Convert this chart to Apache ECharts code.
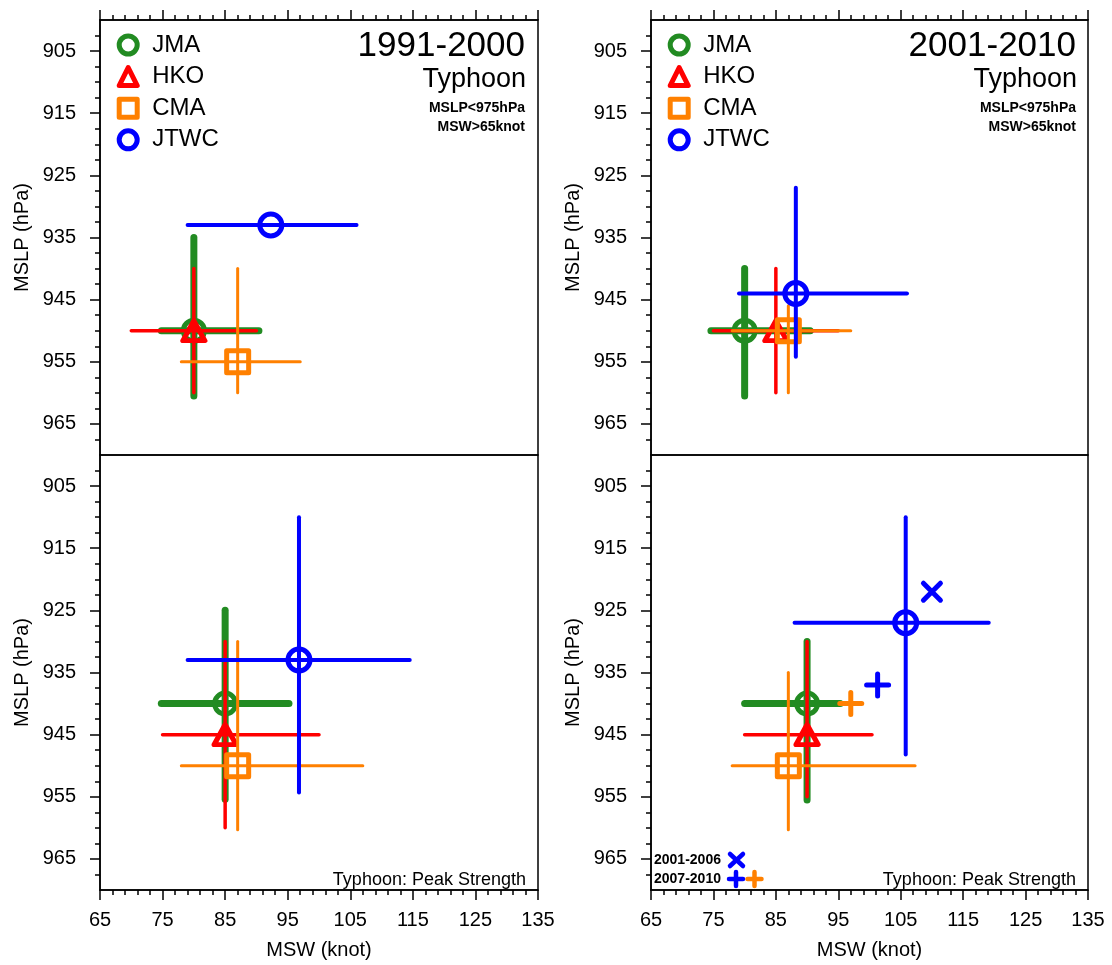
<!DOCTYPE html>
<html><head><meta charset="utf-8">
<script src="https://cdn.jsdelivr.net/npm/echarts@6/dist/echarts.min.js"></script>
<style>html,body{margin:0;padding:0;background:#fff}#c{width:1112px;height:965px}</style>
</head><body><div id="c"></div>
<script>
// ---------------- data ----------------
const agencies = ['JMA', 'HKO', 'CMA', 'JTWC'];
const xTickLabels = [65, 75, 85, 95, 105, 115, 125, 135];
const xMinorTicks = [67, 69, 71, 73, 77, 79, 81, 83, 87, 89, 91, 93, 97, 99, 101, 103, 107, 109, 111, 113, 117, 119, 121, 123, 127, 129, 131, 133];
const yTickLabels = [905, 915, 925, 935, 945, 955, 965];
const yMinorTicks = [902.5, 907.5, 910, 912.5, 917.5, 920, 922.5, 927.5, 930, 932.5, 937.5, 940, 942.5, 947.5, 950, 952.5, 957.5, 960, 962.5, 967.5];

// each: [MSW, MSLP, MSW low, MSW high, MSLP low, MSLP high]
// 1991-2000, Typhoon (MSLP<975hPa, MSW>65knot)
const ty9100_JMA  = [80, 950, 74.8, 90.4, 935, 960.5];
const ty9100_HKO  = [80, 950, 70, 90, 940, 960];
const ty9100_CMA  = [87, 955, 78, 97, 940, 960];
const ty9100_JTWC = [92.3, 933, 79, 106, 933, 933];
// 2001-2010, Typhoon
const ty0110_JMA  = [80, 950, 74.6, 90.5, 940, 960.5];
const ty0110_HKO  = [85, 950, 75, 95, 940, 960];
const ty0110_CMA  = [87, 950, 78, 97, 946, 960];
const ty0110_JTWC = [88.2, 944, 79.1, 106, 927, 954.2];
// 1991-2000, Typhoon: Peak Strength
const pk9100_JMA  = [85, 940, 74.8, 95.2, 925, 955.4];
const pk9100_HKO  = [85, 945, 75, 100, 930, 960];
const pk9100_CMA  = [87, 950, 78, 107, 930, 960.3];
const pk9100_JTWC = [96.8, 933, 79, 114.5, 910, 954.3];
// 2001-2010, Typhoon: Peak Strength
const pk0110_JMA  = [90, 940, 80, 95.3, 930, 955.5];
const pk0110_HKO  = [90, 945, 80, 100.4, 930, 955];
const pk0110_CMA  = [87, 950, 78, 107.3, 935, 960.3];
const pk0110_JTWC = [105.8, 927, 88, 119.1, 910, 948.2];
// sub-period means (peak strength)
const pk0106_JTWC = [110, 922];
const pk0710_JTWC = [101.3, 937];
const pk0710_CMA  = [97, 940];

const panelTitles = ['1991-2000', '2001-2010'];

// ---------------- styles ----------------
const FONT = '"Liberation Sans", Arial, Helvetica, sans-serif';
const colors = ['#228B22', '#FF0000', '#FF8000', '#0000FF'];
const barWidths = [7, 3.5, 3, 4];
const symbols = ['circle', 'triangle', 'rect', 'circle'];
const symbolSizes = [21, [22, 20], 22, 22];
const crossPath = 'path://M0,0L10,10M10,0L0,10';
const plusPath = 'path://M5,0L5,10M0,5L10,5';

const gridsPx = [
  {left: 100, top: 20, width: 438, height: 435},
  {left: 651, top: 20, width: 437, height: 435},
  {left: 100, top: 455, width: 438, height: 435},
  {left: 651, top: 455, width: 437, height: 435}
];
const panelData = [
  [ty9100_JMA, ty9100_HKO, ty9100_CMA, ty9100_JTWC],
  [ty0110_JMA, ty0110_HKO, ty0110_CMA, ty0110_JTWC],
  [pk9100_JMA, pk9100_HKO, pk9100_CMA, pk9100_JTWC],
  [pk0110_JMA, pk0110_HKO, pk0110_CMA, pk0110_JTWC]
];

const axisLineStyle = {color: '#000', width: 1.5};
const grid = gridsPx.map(g => Object.assign({show: true, borderColor: '#000', borderWidth: 1.5, backgroundColor: 'transparent'}, g));

const xAxis = [], yAxis = [];
gridsPx.forEach((g, i) => {
  const isBottom = i >= 2;
  xAxis.push({
    gridIndex: i, type: 'value', min: 65, max: 135,
    position: isBottom ? 'bottom' : 'top',
    name: isBottom ? 'MSW (knot)' : '', nameLocation: 'middle', nameGap: 50,
    nameTextStyle: {fontSize: 20, fontFamily: FONT, color: '#000'},
    axisLine: {show: true, onZero: false, lineStyle: axisLineStyle},
    axisTick: {show: true, inside: false, length: 10, lineStyle: axisLineStyle, customValues: xTickLabels},
    axisLabel: {show: isBottom, customValues: xTickLabels, margin: 20, fontSize: 20, fontFamily: FONT, color: '#000'},
    splitLine: {show: false}
  });
  xAxis.push({
    gridIndex: i, type: 'value', min: 65, max: 135,
    position: isBottom ? 'bottom' : 'top',
    axisLine: {show: false, onZero: false},
    axisTick: {show: true, inside: false, length: 5, lineStyle: axisLineStyle, customValues: xMinorTicks},
    axisLabel: {show: false}, splitLine: {show: false}
  });
  yAxis.push({
    gridIndex: i, type: 'value', min: 900, max: 970, inverse: true, position: 'left',
    name: 'MSLP (hPa)', nameLocation: 'middle', nameGap: 68, nameRotate: 90,
    nameTextStyle: {fontSize: 20, fontFamily: FONT, color: '#000'},
    axisLine: {show: true, onZero: false, lineStyle: axisLineStyle},
    axisTick: {show: true, inside: false, length: 10, lineStyle: axisLineStyle, customValues: yTickLabels},
    axisLabel: {show: true, customValues: yTickLabels, margin: 24, fontSize: 20, fontFamily: FONT, color: '#000'},
    splitLine: {show: false}
  });
  yAxis.push({
    gridIndex: i, type: 'value', min: 900, max: 970, inverse: true, position: 'left',
    axisLine: {show: false, onZero: false},
    axisTick: {show: true, inside: false, length: 5, lineStyle: axisLineStyle, customValues: yMinorTicks},
    axisLabel: {show: false}, splitLine: {show: false}
  });
});

const series = [];
// markers first (legend takes its icon from the first series of a name)
panelData.forEach((rows, p) => {
  rows.forEach((row, k) => {
    series.push({
      type: 'scatter', name: agencies[k], xAxisIndex: 2 * p, yAxisIndex: 2 * p,
      z: 3 + 2 * k, symbol: symbols[k], symbolSize: symbolSizes[k],
      itemStyle: {color: 'rgba(0,0,0,0)', borderColor: colors[k], borderWidth: 5, borderJoin: 'round', opacity: 1},
      emphasis: {disabled: true}, silent: true,
      data: [[row[0], row[1]]]
    });
  });
});
// error bars
panelData.forEach((rows, p) => {
  rows.forEach((row, k) => {
    series.push({
      type: 'custom', name: agencies[k], xAxisIndex: 2 * p, yAxisIndex: 2 * p,
      z: 2 + 2 * k, silent: true,
      encode: {x: [0, 2, 3], y: [1, 4, 5]},
      data: [row],
      renderItem: (params, api) => {
        const lo = api.coord([api.value(2), api.value(1)]);
        const hi = api.coord([api.value(3), api.value(1)]);
        const tp = api.coord([api.value(0), api.value(4)]);
        const bt = api.coord([api.value(0), api.value(5)]);
        const st = {stroke: colors[k], lineWidth: barWidths[k], lineCap: 'round'};
        const ch = [];
        if (Math.abs(bt[1] - tp[1]) > 0.5) ch.push({type: 'line', shape: {x1: tp[0], y1: tp[1], x2: bt[0], y2: bt[1]}, style: st});
        if (Math.abs(hi[0] - lo[0]) > 0.5) ch.push({type: 'line', shape: {x1: lo[0], y1: lo[1], x2: hi[0], y2: hi[1]}, style: st});
        return {type: 'group', children: ch};
      }
    });
  });
});
// sub-period markers in the 2001-2010 peak-strength panel
[[pk0106_JTWC, crossPath, colors[3], 17, 'JTWC 2001-2006'],
 [pk0710_JTWC, plusPath, colors[3], 22, 'JTWC 2007-2010'],
 [pk0710_CMA, plusPath, colors[2], 22, 'CMA 2007-2010']].forEach(([pt, sym, col, size, nm]) => {
  series.push({
    type: 'scatter', name: nm, xAxisIndex: 6, yAxisIndex: 6, z: 12,
    symbol: sym, symbolSize: size, silent: true, emphasis: {disabled: true},
    itemStyle: {color: 'rgba(0,0,0,0)', borderColor: col, borderWidth: 5, borderCap: 'round', opacity: 1},
    data: [[pt[0], pt[1]]]
  });
});

const legendBase = {
  data: agencies, orient: 'vertical', top: 33, itemWidth: 18, itemHeight: 18, itemGap: 7.6,
  selectedMode: false, symbolKeepAspect: true, padding: 0,
  itemStyle: {borderWidth: 5},
  textStyle: {fontSize: 24, lineHeight: 24, fontFamily: FONT, color: '#000', padding: [0, 0, 0, 10]}
};
const legend = [
  Object.assign({}, legendBase, {left: 116.7}),
  Object.assign({}, legendBase, {left: 667.7})
];

function txt(x, y, text, size, align, weight) {
  return {type: 'text', x: x, y: y, z: 20, silent: true,
    style: {text: text, align: align || 'right', verticalAlign: 'middle', fontSize: size, fontWeight: weight || 'normal', fontFamily: FONT, fill: '#000'}};
}
function seg(x1, y1, x2, y2, col) {
  return {type: 'line', z: 20, silent: true, shape: {x1, y1, x2, y2}, style: {stroke: col, lineWidth: 4.5, lineCap: 'round'}};
}
const graphic = [
  txt(525, 46, panelTitles[0], 35), txt(526, 80, 'Typhoon', 27), txt(525, 108, 'MSLP<975hPa', 14, 'right', 'bold'), txt(525, 127, 'MSW>65knot', 14, 'right', 'bold'),
  txt(1076, 46, panelTitles[1], 35), txt(1077, 80, 'Typhoon', 27), txt(1076, 108, 'MSLP<975hPa', 14, 'right', 'bold'), txt(1076, 127, 'MSW>65knot', 14, 'right', 'bold'),
  txt(526, 880, 'Typhoon: Peak Strength', 18), txt(1076, 880, 'Typhoon: Peak Strength', 18),
  txt(654, 860, '2001-2006', 14, 'left', 'bold'), txt(654, 879, '2007-2010', 14, 'left', 'bold'),
  seg(730, 854, 743, 866, colors[3]), seg(743, 854, 730, 866, colors[3]),
  seg(729, 879, 743, 879, colors[3]), seg(736, 872, 736, 886, colors[3]),
  seg(747.5, 879, 761.5, 879, colors[2]), seg(754.5, 872, 754.5, 886, colors[2])
];

const chart = echarts.init(document.getElementById('c'));
chart.setOption({animation: false, backgroundColor: '#fff', grid, xAxis, yAxis, legend, series, graphic});
</script>
</body></html>
